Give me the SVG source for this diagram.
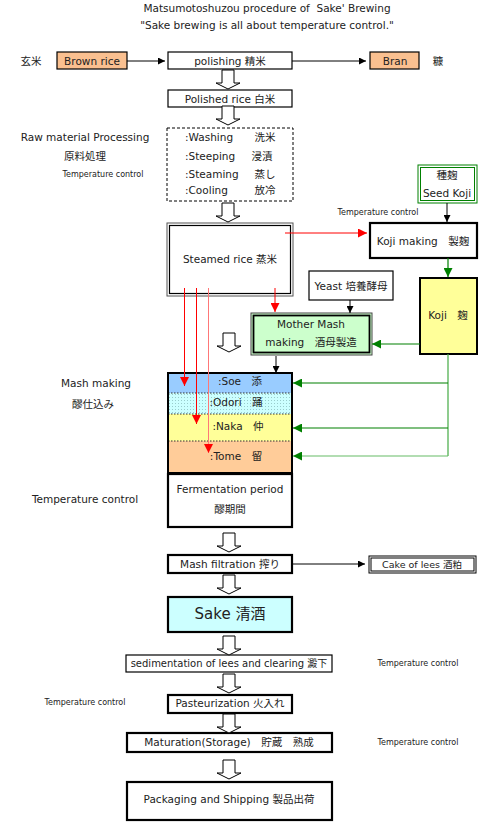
<svg xmlns="http://www.w3.org/2000/svg" width="500" height="837" viewBox="0 0 500 837">
<style>
text{font-family:"DejaVu Sans","Noto Sans CJK JP",sans-serif;font-size:10.5px;fill:#222;text-anchor:middle;dominant-baseline:central}
.s{font-size:8px}
.box{fill:#fff;stroke:#000;stroke-width:1.2}
.thick{fill:#fff;stroke:#000;stroke-width:2.2}
.bk{stroke:#000;stroke-width:1;fill:none}
.rd{stroke:#f00;stroke-width:1;fill:none}
.gr{stroke:#008000;stroke-width:1.2;fill:none}
</style>
<defs>
<path id="ha" d="M-6,0H6V13H12L0,19L-12,13H-6Z" fill="#fff" stroke="#000" stroke-width="1"/>
<marker id="ab" viewBox="0 0 10 10" refX="10" refY="5" markerWidth="7" markerHeight="7" orient="auto" markerUnits="userSpaceOnUse"><path d="M0,0L10,5L0,10Z" fill="#000"/></marker>
<marker id="ar" viewBox="0 0 10 10" refX="10" refY="5" markerWidth="9" markerHeight="9" orient="auto" markerUnits="userSpaceOnUse"><path d="M0,0L10,5L0,10Z" fill="#f00"/></marker>
<marker id="ag" viewBox="0 0 10 10" refX="10" refY="5" markerWidth="9" markerHeight="9" orient="auto" markerUnits="userSpaceOnUse"><path d="M0,0L10,5L0,10Z" fill="#008000"/></marker>
<pattern id="dots" width="3" height="3" patternUnits="userSpaceOnUse"><rect width="3" height="3" fill="#CCFFFF"/><rect x="1" y="1" width="1" height="1" fill="#9cc"/></pattern>
</defs>

<g id="title">
<text x="267" y="8" xml:space="preserve">Matsumotoshuzou procedure of  Sake' Brewing</text>
<text x="267" y="25">"Sake brewing is all about temperature control."</text>
</g>

<g id="labels">
<text x="31" y="61">玄米</text>
<text x="438" y="61">糠</text>
<text x="85" y="137">Raw material Processing</text>
<text x="85" y="156">原料処理</text>
<text class="s" x="103" y="174">Temperature control</text>
<text class="s" x="378" y="212">Temperature control</text>
<text x="96" y="383">Mash making</text>
<text x="93" y="404">醪仕込み</text>
<text x="85" y="499">Temperature control</text>
<text class="s" x="418" y="663">Temperature control</text>
<text class="s" x="85" y="702">Temperature control</text>
<text class="s" x="418" y="742">Temperature control</text>
</g>

<g id="brown-rice"><rect x="57" y="52" width="70" height="17" fill="#FAC090" stroke="#000" stroke-width="1.2"/><text x="92" y="61">Brown rice</text></g>
<g id="polishing"><rect class="box" x="168" y="52" width="124" height="17"/><text x="230" y="61">polishing 精米</text></g>
<g id="bran"><rect x="370" y="52" width="49" height="17" fill="#FAC090" stroke="#000" stroke-width="1.2"/><text x="395" y="61">Bran</text></g>
<g id="polished-rice"><rect class="box" x="168" y="90" width="124" height="17"/><text x="230" y="98.5">Polished rice 白米</text></g>

<g id="raw-processing">
<rect x="167" y="128" width="126" height="73" fill="#fff" stroke="#000" stroke-width="1" stroke-dasharray="3,2"/>
<text x="185" y="137" style="text-anchor:start">:Washing</text><text x="265" y="137">洗米</text>
<text x="185" y="156" style="text-anchor:start">:Steeping</text><text x="262" y="156">浸漬</text>
<text x="185" y="174" style="text-anchor:start">:Steaming</text><text x="265" y="174">蒸し</text>
<text x="185" y="190" style="text-anchor:start">:Cooling</text><text x="265" y="190">放冷</text>
</g>

<g id="steamed-rice">
<rect x="167" y="223" width="126" height="73" fill="#fff" stroke="#555" stroke-width="1"/>
<rect x="169.5" y="225.5" width="121" height="68" fill="none" stroke="#000" stroke-width="1.2"/>
<text x="230" y="259">Steamed rice 蒸米</text>
</g>

<g id="seed-koji">
<rect x="418" y="165" width="59" height="38" fill="#fff" stroke="#008000" stroke-width="1"/>
<rect x="420.5" y="167.5" width="54" height="33" fill="none" stroke="#008000" stroke-width="1"/>
<text x="447" y="175">種麹</text><text x="447" y="193">Seed Koji</text>
</g>

<g id="koji-making"><rect class="thick" x="370" y="223" width="107" height="35"/><text x="423" y="241">Koji making　製麹</text></g>

<g id="koji"><rect x="420" y="278" width="57" height="76" fill="#FFFF99" stroke="#000" stroke-width="2"/><text x="448" y="315">Koji　麹</text></g>

<g id="yeast"><rect class="box" x="309" y="271" width="84" height="29"/><text x="351" y="286">Yeast 培養酵母</text></g>

<g id="mother-mash">
<rect x="251" y="313" width="121" height="42" fill="#CCFFCC" stroke="#444" stroke-width="1"/>
<rect x="253.5" y="315.5" width="116" height="37" fill="none" stroke="#000" stroke-width="1.8"/>
<text x="311" y="323.5">Mother Mash</text><text x="311" y="342">making　酒母製造</text>
</g>

<g id="mash">
<rect x="168" y="373" width="124" height="20" fill="#99CCFF"/>
<rect x="168" y="393" width="124" height="21" fill="url(#dots)"/>
<rect x="168" y="414" width="124" height="27" fill="#FFFF99"/>
<rect x="168" y="441" width="124" height="32" fill="#FFCC99"/>
<path d="M168,393H292M168,414H292M168,441H292" stroke="#333" stroke-width="1" stroke-dasharray="1.5,1.5"/>
<rect x="168" y="373" width="124" height="100" fill="none" stroke="#000" stroke-width="2"/>
<text x="240" y="381">:Soe　添</text>
<text x="236" y="402">:Odori　踊</text>
<text x="238" y="426">:Naka　仲</text>
<text x="236" y="456">:Tome　留</text>
</g>

<g id="fermentation"><rect class="thick" x="168" y="474" width="124" height="53"/><text x="230" y="489">Fermentation period</text><text x="230" y="509">醪期間</text></g>

<g id="mash-filtration"><rect class="thick" x="168" y="555" width="124" height="18"/><text x="230" y="564">Mash filtration 搾り</text></g>

<g id="cake-of-lees">
<rect x="369" y="556" width="107" height="17" fill="#fff" stroke="#000" stroke-width="1"/>
<rect x="371" y="558" width="103" height="13" fill="none" stroke="#000" stroke-width="1"/>
<text x="422" y="564.5" style="font-size:9.5px">Cake of lees 酒粕</text>
</g>

<g id="sake"><rect x="168" y="597" width="124" height="35" fill="#CCFFFF" stroke="#000" stroke-width="2.2"/><text x="230" y="614" style="font-size:15px">Sake 清酒</text></g>

<g id="sedimentation"><rect class="box" x="126" y="655" width="206" height="17"/><text x="229" y="663.5" style="font-size:10px">sedimentation of lees and clearing 澱下</text></g>

<g id="pasteurization"><rect class="thick" x="168" y="695" width="124" height="18"/><text x="230" y="703">Pasteurization 火入れ</text></g>

<g id="maturation"><rect class="thick" x="127" y="733" width="205" height="19"/><text x="229" y="742">Maturation(Storage)　貯蔵　熟成</text></g>

<g id="packaging"><rect class="thick" x="127" y="782" width="205" height="38"/><text x="229" y="799">Packaging and Shipping 製品出荷</text></g>

<g id="connectors">
<line class="bk" x1="127" y1="61" x2="165" y2="61" marker-end="url(#ab)"/>
<line class="bk" x1="292" y1="61" x2="366" y2="61" marker-end="url(#ab)"/>
<line class="bk" x1="447" y1="203" x2="447" y2="222" marker-end="url(#ab)"/>
<line class="rd" x1="285" y1="233" x2="367" y2="233" marker-end="url(#ar)"/>
<line class="gr" x1="448" y1="258" x2="448" y2="277" marker-end="url(#ag)"/>
<line class="bk" x1="350" y1="300" x2="350" y2="313" marker-end="url(#ab)"/>
<line class="gr" x1="420" y1="344" x2="372" y2="344" marker-end="url(#ag)"/>
<line class="bk" x1="276" y1="356" x2="276" y2="373" marker-end="url(#ab)"/>
<line class="rd" x1="275" y1="288" x2="275" y2="312" marker-end="url(#ar)"/>
<line class="rd" x1="184.5" y1="288" x2="184.5" y2="386" marker-end="url(#ar)"/>
<line class="rd" x1="196.5" y1="288" x2="196.5" y2="424" marker-end="url(#ar)"/>
<line x1="208.5" y1="288" x2="208.5" y2="453" stroke="#f77" stroke-width="1" marker-end="url(#ar)"/>
<path d="M448,354V456" stroke="#4a4" stroke-width="1.2" fill="none"/>
<line class="gr" x1="448" y1="383" x2="293" y2="383" marker-end="url(#ag)"/>
<line class="gr" x1="448" y1="428" x2="293" y2="428" marker-end="url(#ag)"/>
<line x1="448" y1="456" x2="293" y2="456" stroke="#6b6" stroke-width="1.2" marker-end="url(#ag)"/>
<line class="bk" x1="292" y1="564" x2="365" y2="564" marker-end="url(#ab)"/>
<use href="#ha" x="228" y="70"/>
<use href="#ha" x="228" y="106"/>
<use href="#ha" x="228" y="203"/>
<use href="#ha" x="229" y="333"/>
<use href="#ha" x="229" y="533"/>
<use href="#ha" x="229" y="575"/>
<use href="#ha" x="229" y="636"/>
<use href="#ha" x="229" y="674"/>
<use href="#ha" x="229" y="714"/>
<use href="#ha" x="229" y="760"/>
</g>
</svg>
